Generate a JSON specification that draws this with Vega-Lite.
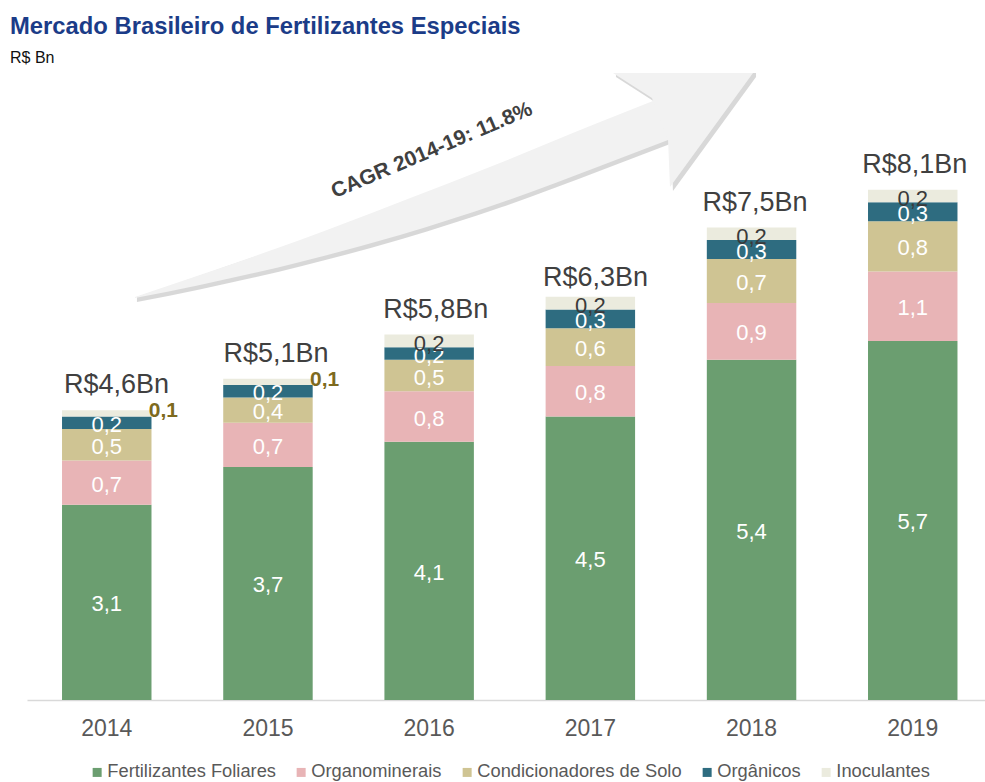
{
  "$schema": "https://vega.github.io/schema/vega-lite/v6.json",
  "autosize": "none",
  "width": 958,
  "height": 630,
  "padding": {"left": 27, "top": 70, "right": 0, "bottom": 82},
  "background": "white",
  "title": {
    "text": "Mercado Brasileiro de Fertilizantes Especiais",
    "subtitle": "R$ Bn",
    "anchor": "start",
    "frame": "group",
    "dx": -17,
    "offset": 4,
    "font": "Liberation Sans",
    "fontSize": 23.8,
    "fontWeight": "bold",
    "color": "#1B3C88",
    "subtitleFont": "Liberation Sans",
    "subtitleFontSize": 16,
    "subtitleColor": "#111111",
    "subtitlePadding": 11
  },
  "config": {
    "view": {"stroke": null},
    "locale": {"number": {"decimal": ",", "thousands": ".", "grouping": [3], "currency": ["R$", "Bn"]}},
    "legend": {
      "orient": "none",
      "legendX": 61,
      "legendY": 693,
      "direction": "horizontal",
      "title": null,
      "symbolType": "square",
      "symbolSize": 81,
      "symbolStrokeWidth": 0,
      "labelFont": "Liberation Sans",
      "labelFontSize": 18.3,
      "labelColor": "#595959",
      "labelLimit": 0,
      "columnPadding": 16,
      "labelOffset": 1
    }
  },
  "datasets": {
    "segmentos": [
      {"ano": "2014", "categoria": "Fertilizantes Foliares", "ordem": 1, "v": 3.1},
      {"ano": "2014", "categoria": "Organominerais", "ordem": 2, "v": 0.7},
      {"ano": "2014", "categoria": "Condicionadores de Solo", "ordem": 3, "v": 0.5},
      {"ano": "2014", "categoria": "Orgânicos", "ordem": 4, "v": 0.2},
      {"ano": "2014", "categoria": "Inoculantes", "ordem": 5, "v": 0.1},
      {"ano": "2015", "categoria": "Fertilizantes Foliares", "ordem": 1, "v": 3.7},
      {"ano": "2015", "categoria": "Organominerais", "ordem": 2, "v": 0.7},
      {"ano": "2015", "categoria": "Condicionadores de Solo", "ordem": 3, "v": 0.4},
      {"ano": "2015", "categoria": "Orgânicos", "ordem": 4, "v": 0.2},
      {"ano": "2015", "categoria": "Inoculantes", "ordem": 5, "v": 0.1},
      {"ano": "2016", "categoria": "Fertilizantes Foliares", "ordem": 1, "v": 4.1},
      {"ano": "2016", "categoria": "Organominerais", "ordem": 2, "v": 0.8},
      {"ano": "2016", "categoria": "Condicionadores de Solo", "ordem": 3, "v": 0.5},
      {"ano": "2016", "categoria": "Orgânicos", "ordem": 4, "v": 0.2},
      {"ano": "2016", "categoria": "Inoculantes", "ordem": 5, "v": 0.2},
      {"ano": "2017", "categoria": "Fertilizantes Foliares", "ordem": 1, "v": 4.5},
      {"ano": "2017", "categoria": "Organominerais", "ordem": 2, "v": 0.8},
      {"ano": "2017", "categoria": "Condicionadores de Solo", "ordem": 3, "v": 0.6},
      {"ano": "2017", "categoria": "Orgânicos", "ordem": 4, "v": 0.3},
      {"ano": "2017", "categoria": "Inoculantes", "ordem": 5, "v": 0.2},
      {"ano": "2018", "categoria": "Fertilizantes Foliares", "ordem": 1, "v": 5.4},
      {"ano": "2018", "categoria": "Organominerais", "ordem": 2, "v": 0.9},
      {"ano": "2018", "categoria": "Condicionadores de Solo", "ordem": 3, "v": 0.7},
      {"ano": "2018", "categoria": "Orgânicos", "ordem": 4, "v": 0.3},
      {"ano": "2018", "categoria": "Inoculantes", "ordem": 5, "v": 0.2},
      {"ano": "2019", "categoria": "Fertilizantes Foliares", "ordem": 1, "v": 5.7},
      {"ano": "2019", "categoria": "Organominerais", "ordem": 2, "v": 1.1},
      {"ano": "2019", "categoria": "Condicionadores de Solo", "ordem": 3, "v": 0.8},
      {"ano": "2019", "categoria": "Orgânicos", "ordem": 4, "v": 0.3},
      {"ano": "2019", "categoria": "Inoculantes", "ordem": 5, "v": 0.2}
    ],
    "totais": [
      {"ano": "2014", "total": 4.6},
      {"ano": "2015", "total": 5.1},
      {"ano": "2016", "total": 5.8},
      {"ano": "2017", "total": 6.3},
      {"ano": "2018", "total": 7.5},
      {"ano": "2019", "total": 8.1}
    ],
    "seta_corpo": [
      {"u": 0.676, "lo": 6.381, "hi": 6.397},
      {"u": 1.083, "lo": 6.587, "hi": 6.746},
      {"u": 1.710, "lo": 6.952, "hi": 7.302},
      {"u": 2.336, "lo": 7.381, "hi": 7.905},
      {"u": 2.962, "lo": 7.889, "hi": 8.524},
      {"u": 3.589, "lo": 8.476, "hi": 9.175},
      {"u": 4.015, "lo": 8.889, "hi": 9.603}
    ],
    "seta_ponta": [
      {"u": 3.670, "lo": 9.952, "hi": 9.952},
      {"u": 3.914, "lo": 9.556, "hi": 9.952},
      {"u": 4.015, "lo": 8.889, "hi": 9.952},
      {"u": 4.027, "lo": 8.143, "hi": 9.952},
      {"u": 4.547, "lo": 9.952, "hi": 9.952}
    ],
    "cagr": [
      {"u": 2.536, "v": 8.72, "t": "CAGR 2014-19: 11.8%"}
    ]
  },
  "resolve": {"scale": {"x": "independent"}, "axis": {"x": "independent"}},
  "layer": [
    {
      "data": {"name": "seta_corpo"},
      "mark": {"type": "area", "color": "#b8b8b8", "opacity": 0.55, "yOffset": 4, "xOffset": 2, "interpolate": "monotone"},
      "encoding": {
        "x": {"field": "u", "type": "quantitative", "scale": {"domain": [0, 6], "nice": false, "zero": false}, "axis": null},
        "y": {"field": "lo", "type": "quantitative", "scale": {"domain": [0, 10]}, "axis": null},
        "y2": {"field": "hi"}
      }
    },
    {
      "data": {"name": "seta_ponta"},
      "mark": {"type": "area", "color": "#b8b8b8", "opacity": 0.55, "yOffset": 4, "xOffset": 3},
      "encoding": {
        "x": {"field": "u", "type": "quantitative", "scale": {"domain": [0, 6], "nice": false, "zero": false}, "axis": null},
        "y": {"field": "lo", "type": "quantitative", "axis": null},
        "y2": {"field": "hi"}
      }
    },
    {
      "data": {"name": "seta_corpo"},
      "mark": {"type": "area", "color": "#f2f2f2", "interpolate": "monotone"},
      "encoding": {
        "x": {"field": "u", "type": "quantitative", "scale": {"domain": [0, 6], "nice": false, "zero": false}, "axis": null},
        "y": {"field": "lo", "type": "quantitative", "axis": null},
        "y2": {"field": "hi"}
      }
    },
    {
      "data": {"name": "seta_ponta"},
      "mark": {"type": "area", "color": "#f2f2f2"},
      "encoding": {
        "x": {"field": "u", "type": "quantitative", "scale": {"domain": [0, 6], "nice": false, "zero": false}, "axis": null},
        "y": {"field": "lo", "type": "quantitative", "axis": null},
        "y2": {"field": "hi"}
      }
    },
    {
      "data": {"name": "cagr"},
      "mark": {"type": "text", "font": "Liberation Sans", "fontSize": 21, "fontWeight": "bold", "color": "#404040", "angle": -23, "align": "center", "baseline": "middle"},
      "encoding": {
        "x": {"field": "u", "type": "quantitative", "scale": {"domain": [0, 6], "nice": false, "zero": false}, "axis": null},
        "y": {"field": "v", "type": "quantitative", "axis": null},
        "text": {"field": "t"}
      }
    },
    {
      "data": {"name": "segmentos"},
      "transform": [
        {"stack": "v", "groupby": ["ano"], "sort": [{"field": "ordem"}], "as": ["v0", "v1"]},
        {"calculate": "(datum.v0 + datum.v1) / 2", "as": "meio"}
      ],
      "layer": [
        {
          "mark": {"type": "bar"},
          "encoding": {
            "x": {
              "field": "ano", "type": "nominal",
              "scale": {"paddingInner": 0.445, "paddingOuter": 0.194, "align": 0.56},
              "axis": {
                "title": null, "labelAngle": 0, "ticks": false,
                "domainColor": "#d9d9d9", "domainWidth": 1.5,
                "labelFont": "Liberation Sans", "labelFontSize": 23, "labelColor": "#595959", "labelPadding": 17
              }
            },
            "y": {"field": "v0", "type": "quantitative", "axis": null},
            "y2": {"field": "v1"},
            "color": {
              "field": "categoria", "type": "nominal",
              "scale": {
                "domain": ["Fertilizantes Foliares", "Organominerais", "Condicionadores de Solo", "Orgânicos", "Inoculantes"],
                "range": ["#6B9E70", "#E8B4B6", "#CFC493", "#2E6C80", "#EBEBDE"]
              },
              "legend": {}
            }
          }
        },
        {
          "transform": [{"filter": "datum.categoria != 'Inoculantes'"}],
          "mark": {"type": "text", "font": "Liberation Sans", "fontSize": 22, "color": "#ffffff", "baseline": "middle", "dy": 2},
          "encoding": {
            "x": {"field": "ano", "type": "nominal"},
            "y": {"field": "meio", "type": "quantitative"},
            "text": {"field": "v", "type": "quantitative", "format": ".1f"}
          }
        },
        {
          "transform": [{"filter": "datum.categoria == 'Inoculantes' && datum.v >= 0.15"}],
          "mark": {"type": "text", "font": "Liberation Sans", "fontSize": 22, "color": "#3a3a3a", "baseline": "middle", "dy": 3},
          "encoding": {
            "x": {"field": "ano", "type": "nominal"},
            "y": {"field": "meio", "type": "quantitative"},
            "text": {"field": "v", "type": "quantitative", "format": ".1f"}
          }
        },
        {
          "transform": [{"filter": "datum.categoria == 'Inoculantes' && datum.v < 0.15"}],
          "mark": {"type": "text", "font": "Liberation Sans", "fontSize": 21, "fontWeight": "bold", "color": "#7D6A1E", "baseline": "middle", "align": "left", "dx": 42, "dy": -2},
          "encoding": {
            "x": {"field": "ano", "type": "nominal"},
            "y": {"field": "meio", "type": "quantitative"},
            "text": {"field": "v", "type": "quantitative", "format": ".1f"}
          }
        }
      ]
    },
    {
      "data": {"name": "totais"},
      "mark": {"type": "text", "font": "Liberation Sans", "fontSize": 27, "color": "#404040", "baseline": "bottom", "dy": -11},
      "encoding": {
        "x": {"field": "ano", "type": "nominal", "scale": {"paddingInner": 0.445, "paddingOuter": 0.194, "align": 0.56}, "axis": null},
        "y": {"field": "total", "type": "quantitative"},
        "text": {"field": "total", "type": "quantitative", "format": "$.1f"}
      }
    }
  ]
}
